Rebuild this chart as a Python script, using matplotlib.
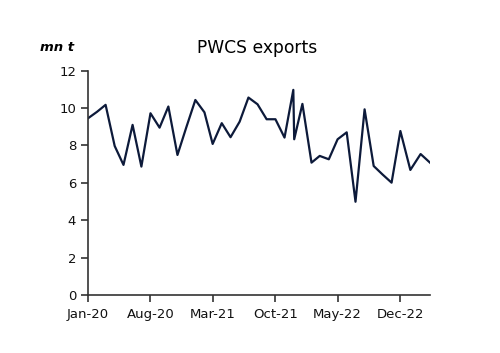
import numpy as np
import pandas as pd
import matplotlib
matplotlib.use("Agg")
import matplotlib.pyplot as plt
import matplotlib.dates as mdates

# PWCS exports, mn t (one extra reading early Dec-21)
dates = ['2020-01-01', '2020-02-01', '2020-03-01', '2020-04-01', '2020-05-01',
         '2020-06-01', '2020-07-01', '2020-08-01', '2020-09-01', '2020-10-01',
         '2020-11-01', '2020-12-01', '2021-01-01', '2021-02-01', '2021-03-01',
         '2021-04-01', '2021-05-01', '2021-06-01', '2021-07-01', '2021-08-01',
         '2021-09-01', '2021-10-01', '2021-11-01', '2021-12-01', '2021-12-04',
         '2022-01-01', '2022-02-01', '2022-03-01', '2022-04-01', '2022-05-01',
         '2022-06-01', '2022-07-01', '2022-08-01', '2022-09-01', '2022-10-01',
         '2022-11-01', '2022-12-01', '2023-01-04', '2023-02-08', '2023-03-12']
exports = [9.45, 9.8, 10.17, 7.97, 6.96, 9.1, 6.87, 9.72, 8.95, 10.08,
           7.49, 8.96, 10.43, 9.77, 8.08, 9.19, 8.44, 9.27, 10.56, 10.2,
           9.4, 9.4, 8.42, 10.97, 8.33, 10.22, 7.08, 7.44, 7.26, 8.33,
           8.7, 4.99, 9.93, 6.9, 6.45, 6.01, 8.77, 6.69, 7.54, 7.08]
tick_labels = ['Jan-20', 'Aug-20', 'Mar-21', 'Oct-21', 'May-22', 'Dec-22']
y_ticks = [0, 2, 4, 6, 8, 10, 12]

x = pd.to_datetime(dates)
ticks = pd.to_datetime(tick_labels, format='%b-%y')

fig = plt.figure(figsize=(5, 3.53), dpi=100)
ax = fig.add_axes([0.176, 0.164, 0.684, 0.636])

ax.plot(x, exports, color='#0d1a3a', lw=1.6)

ax.set_xlim(x[0], x[-1])
ax.set_ylim(0, 12)
ax.set_yticks(y_ticks)
ax.set_xticks(ticks)
ax.xaxis.set_major_formatter(mdates.DateFormatter('%b-%y'))

for s in ['top', 'right']:
    ax.spines[s].set_visible(False)
for s in ['left', 'bottom']:
    ax.spines[s].set_color('#333333')
    ax.spines[s].set_linewidth(1.2)
ax.tick_params(direction='out', length=5, width=1.2, color='#333333',
               labelsize=9.5, labelcolor='#111111')
ax.tick_params(axis='x', pad=4)

fig.text(0.515, 0.865, 'PWCS exports', ha='center', va='center', fontsize=12.3)
fig.text(0.08, 0.865, 'mn t', ha='left', va='center', fontsize=9.5,
         fontweight='bold', fontstyle='italic')

fig.savefig('out.png', dpi=100)
plt.close()
